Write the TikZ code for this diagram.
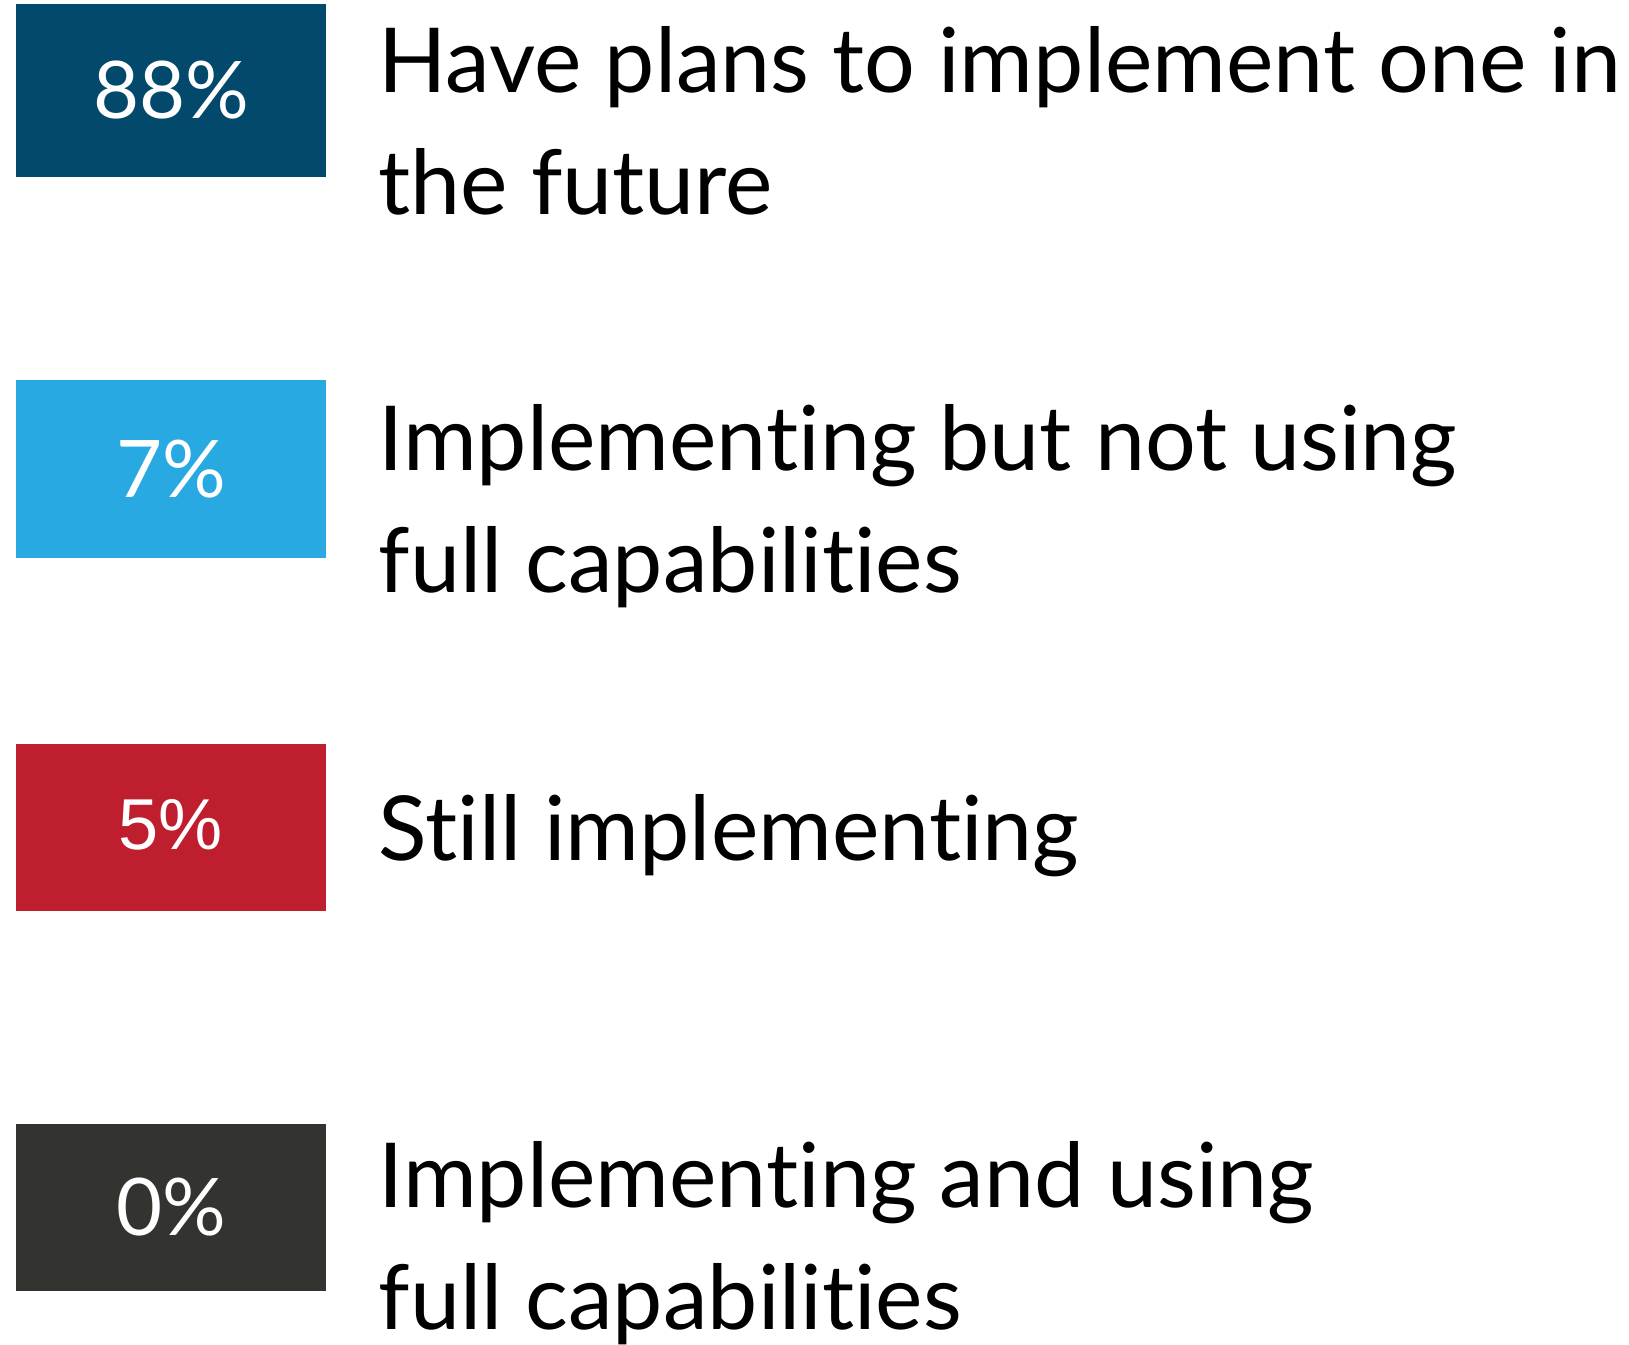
\documentclass[tikz,border=0pt]{standalone}
\usepackage{fontspec}
\setmainfont{Lato}[Ligatures={NoCommon}]
\newfontfamily\arialfont{Liberation Sans}
\definecolor{darkblue}{HTML}{02496B}
\definecolor{lightblue}{HTML}{29A9E1}
\definecolor{darkred}{HTML}{BE1E2D}
\definecolor{charcoal}{HTML}{33332F}

\begin{document}
\begin{tikzpicture}[x=0.01cm,y=-0.01cm,
    pctbox/.style={rectangle,minimum width=3.1cm,inner sep=0pt,text=white,
      font=\fontsize{22.6}{27}\selectfont},
    answer/.style={anchor=base west,inner sep=0pt,align=left,
      font=\fontsize{25.5}{34.5}\selectfont}]
  \useasboundingbox (0,0) rectangle (1629,1345);
  % percentage boxes
  \node[pctbox,fill=darkblue,minimum height=1.73cm] (p88) at (171,90.5) {88\%};
  \node[pctbox,fill=lightblue,minimum height=1.78cm] (p7) at (171,469) {7\%};
  \node[pctbox,fill=darkred,minimum height=1.67cm] (p5) at (171,827.5) {\raisebox{0.055cm}{\arialfont\fontsize{20.5}{24}\selectfont 5\%}};
  \node[pctbox,fill=charcoal,minimum height=1.67cm] (p0) at (171,1207.5) {0\%};
  % answers (anchored at the baseline of the last line)
  \node[answer] (plans) at (378,214) {Have plans to implement one in\\the future};
  \node[answer] (partial) at (378,592) {Implementing but not using\\full capabilities};
  \node[answer] (still) at (378,860) {Still implementing};
  \node[answer] (full) at (378,1329) {Implementing and using\\full capabilities};
\end{tikzpicture}
\end{document}
